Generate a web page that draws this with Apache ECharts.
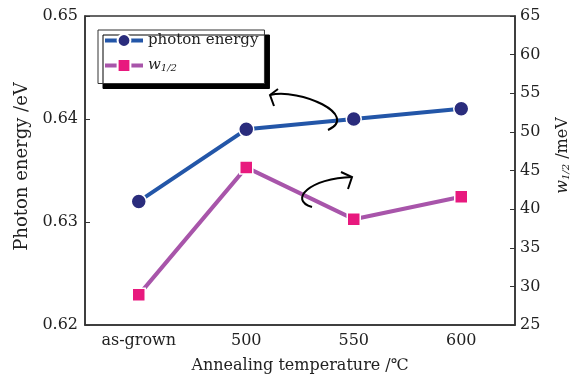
<!DOCTYPE html>
<html>
<head>
<meta charset="utf-8">
<script src="https://cdn.jsdelivr.net/npm/echarts@6/dist/echarts.min.js"></script>
<style>
  html, body { margin: 0; padding: 0; background: #fff; }
  #main { width: 579px; height: 381px; }
</style>
</head>
<body>
<div id="main"></div>
<script>
// annealing temperature categories
const categories = ['as-grown', '500', '550', '600']
// photon energy (eV), left axis
const photonEnergy = [0.632, 0.639, 0.640, 0.641]
// w1/2 (meV), right axis
const halfWidth = [28.9, 45.4, 38.7, 41.6]

const font = 'DejaVu Serif'
const axisColor = '#333'

const myChart = echarts.init(document.getElementById('main'))
myChart.setOption({
  animation: false,
  backgroundColor: '#fff',
  textStyle: { fontFamily: font },
  grid: {
    left: 85,
    right: 62,
    top: 16,
    bottom: 56,
    show: true,
    borderColor: axisColor,
    borderWidth: 1.5,
  },
  legend: {
    orient: 'vertical',
    left: 98,
    top: 30,
    padding: [3, 6, 10, 5],
    itemGap: 10,
    itemWidth: 38,
    itemHeight: 16,
    backgroundColor: '#fff',
    borderColor: axisColor,
    borderWidth: 1,
    shadowColor: '#000',
    shadowBlur: 0,
    shadowOffsetX: 5,
    shadowOffsetY: 5,
    lineStyle: { width: 4 },
    textStyle: {
      fontFamily: font,
      fontSize: 15,
      color: '#222',
      rich: {
        i: { fontFamily: font, fontSize: 15, fontStyle: 'italic', color: '#222' },
        s: { fontFamily: font, fontSize: 10, fontStyle: 'italic', color: '#222', verticalAlign: 'bottom', padding: [6, 0, 0, 0] },
      },
    },
    formatter: (name) => (name === 'w1/2' ? '{i|w}{s|1/2}' : name),
    data: ['photon energy', 'w1/2'],
  },
  xAxis: {
    type: 'category',
    data: categories,
    boundaryGap: true,
    name: 'Annealing temperature /℃',
    nameLocation: 'middle',
    nameGap: 33,
    nameTextStyle: { fontFamily: font, fontSize: 16, color: '#222' },
    axisLine: { lineStyle: { color: axisColor, width: 1.5 } },
    axisTick: { inside: true, alignWithLabel: true, length: 5, lineStyle: { color: axisColor } },
    axisLabel: { fontFamily: font, fontSize: 16, color: '#222', margin: 8 },
  },
  yAxis: [
    {
      type: 'value',
      min: 0.62,
      max: 0.65,
      interval: 0.01,
      name: 'Photon energy /eV',
      nameLocation: 'middle',
      nameRotate: 90,
      nameGap: 54,
      nameTextStyle: { fontFamily: font, fontSize: 18, color: '#222', padding: [0, 0, 0, 8] },
      axisLine: { show: true, lineStyle: { color: axisColor, width: 1.5 } },
      axisTick: { show: true, inside: true, length: 5, lineStyle: { color: axisColor } },
      axisLabel: { fontFamily: font, fontSize: 16, color: '#222', margin: 7, formatter: (v) => v.toFixed(2) },
      splitLine: { show: false },
    },
    {
      type: 'value',
      position: 'right',
      min: 25,
      max: 65,
      interval: 5,
      name: '{i|w}{s|1/2} /meV',
      nameLocation: 'middle',
      nameRotate: 90,
      nameGap: 40,
      nameTextStyle: {
        fontFamily: font,
        fontSize: 16,
        color: '#222',
        padding: [0, 0, 0, 30],
        rich: {
          i: { fontFamily: font, fontSize: 16, fontStyle: 'italic', color: '#222' },
          s: { fontFamily: font, fontSize: 10, fontStyle: 'italic', color: '#222', verticalAlign: 'bottom', padding: [6, 0, 0, 0] },
        },
      },
      axisLine: { show: true, lineStyle: { color: axisColor, width: 1.5 } },
      axisTick: { show: true, inside: true, length: 5, lineStyle: { color: axisColor } },
      axisLabel: { fontFamily: font, fontSize: 16, color: '#222', margin: 5 },
      splitLine: { show: false },
    },
  ],
  series: [
    {
      name: 'photon energy',
      type: 'line',
      yAxisIndex: 0,
      data: photonEnergy,
      symbol: 'circle',
      symbolSize: 15,
      lineStyle: { color: '#2356a8', width: 4 },
      itemStyle: { color: '#2a2c7c', borderColor: '#fff', borderWidth: 1.5 },
    },
    {
      name: 'w1/2',
      type: 'line',
      yAxisIndex: 1,
      data: halfWidth,
      symbol: 'rect',
      symbolSize: 13,
      lineStyle: { color: '#a855aa', width: 4 },
      itemStyle: { color: '#e8197e', borderColor: '#fff', borderWidth: 1.5 },
    },
  ],
  graphic: [
    // curved arrow pointing to the left axis
    {
      type: 'bezierCurve',
      shape: { x1: 328, y1: 130, cpx1: 360, cpy1: 115, cpx2: 300, cpy2: 88, x2: 270, y2: 95 },
      style: { stroke: '#000', lineWidth: 2, fill: null },
      z: 10,
    },
    {
      type: 'polyline',
      shape: { points: [[278, 89], [270, 95], [274, 106]] },
      style: { stroke: '#000', lineWidth: 2, fill: null },
      z: 10,
    },
    // curved arrow pointing to the right axis
    {
      type: 'bezierCurve',
      shape: { x1: 312, y1: 207, cpx1: 288, cpy1: 200, cpx2: 310, cpy2: 178, x2: 352, y2: 177 },
      style: { stroke: '#000', lineWidth: 2, fill: null },
      z: 10,
    },
    {
      type: 'polyline',
      shape: { points: [[341, 172], [352, 177], [348, 189]] },
      style: { stroke: '#000', lineWidth: 2, fill: null },
      z: 10,
    },
  ],
})
</script>
</body>
</html>
